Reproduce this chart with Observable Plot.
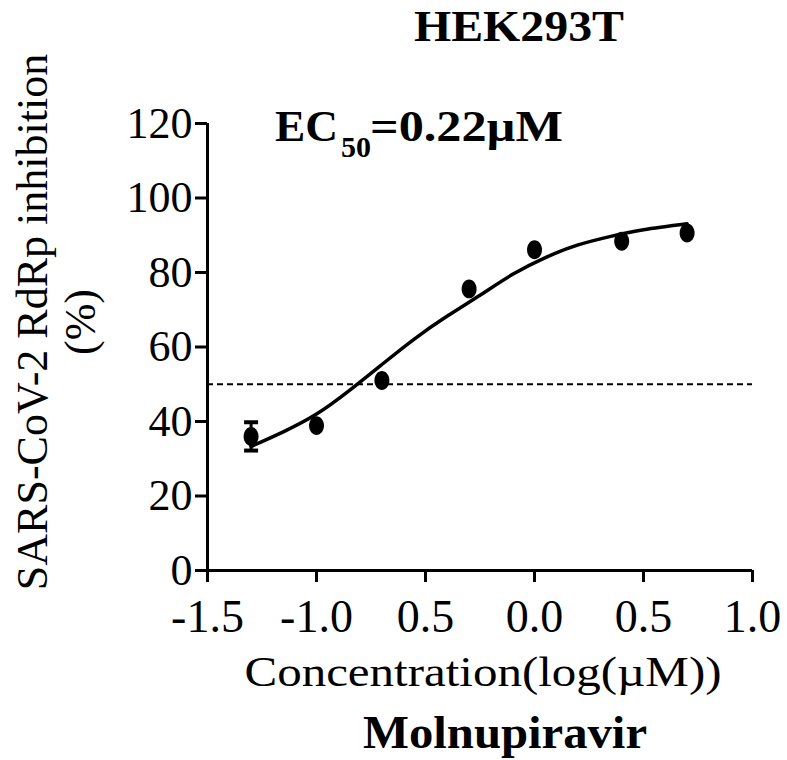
<!DOCTYPE html>
<html>
<head>
<meta charset="utf-8">
<script src="https://cdn.jsdelivr.net/npm/d3@7"></script>
<script src="https://cdn.jsdelivr.net/npm/@observablehq/plot@0.6"></script>
<style>
  html, body { margin: 0; padding: 0; background: #fff; }
  #chart svg { display: block; }
</style>
</head>
<body>
<div id="chart"></div>
<script>
// ---- data ----
const logConc = [-1.3, -1.0, -0.7, -0.3, 0.0, 0.4, 0.7];
const inhibition = [36.0, 38.9, 51.0, 75.6, 86.1, 88.4, 90.6];
const sem = [3.8, 0.8, 0.8, 0.8, 0.8, 0.8, 0.8];

// fitted curve
const fitX = [-1.30, -1.15, -1.00, -0.85, -0.70, -0.55, -0.40, -0.25, -0.10, 0.05, 0.20, 0.35, 0.50, 0.70];
const fitY = [33.3, 37.3, 42.0, 48.3, 55.3, 62.2, 68.3, 73.9, 79.5, 84.0, 87.4, 89.7, 91.5, 93.1];

const xTicks = [-1.5, -1.0, -0.5, 0.0, 0.5, 1.0];
const xTickLabels = ["-1.5", "-1.0", "0.5", "0.0", "0.5", "1.0"];
const yTicks = [0, 20, 40, 60, 80, 100, 120];
const threshold = [50];

const title = "HEK293T";
const ecLabel = "EC";
const ecSub = "50";
const ecValue = "=0.22\u00B5M";
const xTitle = "Concentration(log(\u00B5M))";
const drugName = "Molnupiravir";
const yTitle1 = "SARS-CoV-2 RdRp inhibition";
const yTitle2 = "(%)";

// ---- tables ----
const points = logConc.map((x, i) => ({x, y: inhibition[i], sem: sem[i]}));
const fit = fitX.map((x, i) => ({x, y: fitY[i]}));
const bars = points.filter(d => d.sem > 2);

// ellipse symbol (dots in the figure are slightly taller than wide)
const ellipse = {
  draw(ctx, size) {
    const r = Math.sqrt(size / Math.PI);
    const rx = r * 0.87, ry = r * 1.1, k = 0.5523;
    ctx.moveTo(rx, 0);
    ctx.bezierCurveTo(rx, k * ry, k * rx, ry, 0, ry);
    ctx.bezierCurveTo(-k * rx, ry, -rx, k * ry, -rx, 0);
    ctx.bezierCurveTo(-rx, -k * ry, -k * rx, -ry, 0, -ry);
    ctx.bezierCurveTo(k * rx, -ry, rx, -k * ry, rx, 0);
    ctx.closePath();
  }
};
const capSymbol = {
  draw(ctx, size) {
    const r = Math.sqrt(size / Math.PI);
    ctx.moveTo(-r, 0);
    ctx.lineTo(r, 0);
  }
};

const W = 787, H = 760;
const FONT = "'Liberation Serif', 'Times New Roman', serif";

const plot = Plot.plot({
  width: W,
  height: H,
  marginLeft: 207,
  marginRight: 35,
  marginTop: 123,
  marginBottom: 190,
  style: {fontFamily: FONT, color: "#000", background: "#fff", overflow: "visible"},
  x: {domain: [-1.5, 1.0], label: null},
  y: {domain: [0, 120], label: null},
  marks: [
    Plot.axisX({
      ticks: xTicks,
      tickFormat: d => xTickLabels[xTicks.indexOf(d)],
      tickSize: 12,
      tickPadding: 17,
      strokeWidth: 3,
      fontSize: 46,
      label: null
    }),
    Plot.axisY({
      ticks: yTicks,
      tickSize: 12,
      tickPadding: 3,
      strokeWidth: 3,
      fontSize: 44,
      label: null
    }),
    Plot.ruleY([0], {x1: -1.5, x2: 1.0, stroke: "#000", strokeWidth: 3}),
    Plot.ruleX([-1.5], {y1: 0, y2: 120, stroke: "#000", strokeWidth: 3}),
    Plot.ruleY(threshold, {x1: -1.5, x2: 1.0, stroke: "#000", strokeWidth: 2, strokeDasharray: "6,4"}),
    Plot.line(fit, {x: "x", y: "y", curve: "natural", stroke: "#000", strokeWidth: 3.5}),
    Plot.ruleX(bars, {x: "x", y1: d => d.y - d.sem, y2: d => d.y + d.sem, stroke: "#000", strokeWidth: 3}),
    Plot.dot(bars, {x: "x", y: d => d.y - d.sem, r: 7, symbol: capSymbol, stroke: "#000", strokeWidth: 4}),
    Plot.dot(bars, {x: "x", y: d => d.y + d.sem, r: 7, symbol: capSymbol, stroke: "#000", strokeWidth: 4}),
    Plot.dot(points, {x: "x", y: "y", r: 8.6, symbol: ellipse, fill: "#000", stroke: "none"})
  ]
});

document.getElementById("chart").appendChild(plot);

// ---- annotations ----
const svg = d3.select(plot);
const ann = svg.append("g").attr("font-family", FONT).attr("fill", "#000");

ann.append("text")
  .attr("x", 519).attr("y", 41)
  .attr("text-anchor", "middle")
  .attr("font-weight", "bold").attr("font-size", 45)
  .attr("textLength", 210).attr("lengthAdjust", "spacingAndGlyphs")
  .text(title);

ann.append("text")
  .attr("x", 275).attr("y", 141)
  .attr("text-anchor", "start")
  .attr("font-weight", "bold").attr("font-size", 45)
  .attr("textLength", 63).attr("lengthAdjust", "spacingAndGlyphs")
  .text(ecLabel);
ann.append("text")
  .attr("x", 341).attr("y", 157)
  .attr("text-anchor", "start")
  .attr("font-weight", "bold").attr("font-size", 30)
  .text(ecSub);
ann.append("text")
  .attr("x", 370).attr("y", 141)
  .attr("text-anchor", "start")
  .attr("font-weight", "bold").attr("font-size", 45)
  .attr("textLength", 193).attr("lengthAdjust", "spacingAndGlyphs")
  .text(ecValue);

ann.append("text")
  .attr("x", 483).attr("y", 686)
  .attr("text-anchor", "middle")
  .attr("font-size", 42)
  .attr("textLength", 477).attr("lengthAdjust", "spacingAndGlyphs")
  .text(xTitle);

ann.append("text")
  .attr("x", 505).attr("y", 748)
  .attr("text-anchor", "middle")
  .attr("font-weight", "bold").attr("font-size", 47)
  .attr("textLength", 284).attr("lengthAdjust", "spacingAndGlyphs")
  .text(drugName);

ann.append("text")
  .attr("transform", "translate(47,322) rotate(-90)")
  .attr("text-anchor", "middle")
  .attr("font-size", 44)
  .text(yTitle1);

ann.append("text")
  .attr("transform", "translate(95,322) rotate(-90)")
  .attr("text-anchor", "middle")
  .attr("font-size", 44)
  .text(yTitle2);
</script>
</body>
</html>
